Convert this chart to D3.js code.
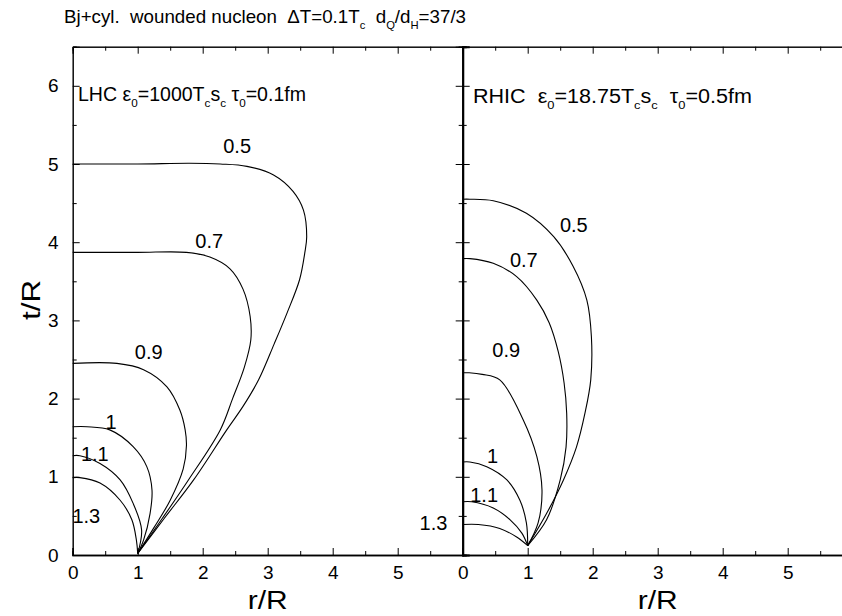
<!DOCTYPE html>
<html>
<head>
<meta charset="utf-8">
<script src="https://cdn.jsdelivr.net/npm/d3@7"></script>
<style>
  html, body { margin: 0; padding: 0; background: #fff; }
  svg { display: block; font-family: "Liberation Sans", Arial, Helvetica, sans-serif; }
  text { white-space: pre; }
</style>
</head>
<body>
<svg id="chart" width="842" height="616"></svg>
<script>
// Contour lines of constant temperature T/Tc in the (r/R, t/R) plane.
// Each series: [r/R, t/R] points.
const levels = ["0.5", "0.7", "0.9", "1", "1.1", "1.3"];

const lhc05 = [[0,5.0],[1.0,5.0],[1.8,5.01],[2.27,5.0],[2.68,4.97],[3.09,4.86],[3.39,4.65],[3.55,4.41],[3.6,4.07],[3.57,3.86],[3.49,3.52],[3.3,3.1],[3.1,2.7],[2.86,2.24],[2.62,1.9],[2.37,1.6],[1.86,0.96],[1.41,0.47],[1.0,0.02]];
const lhc07 = [[0,3.87],[1.0,3.87],[1.75,3.87],[2.11,3.81],[2.42,3.66],[2.62,3.4],[2.73,3.05],[2.74,2.75],[2.64,2.4],[2.46,2.0],[2.27,1.6],[1.78,0.96],[1.38,0.47],[1.0,0.02]];
const lhc09 = [[0,2.45],[0.68,2.45],[1.09,2.37],[1.45,2.15],[1.65,1.85],[1.73,1.6],[1.75,1.4],[1.7,1.1],[1.5,0.7],[1.25,0.35],[1.0,0.02]];
const lhc10 = [[0,1.64],[0.22,1.64],[0.57,1.6],[0.93,1.385],[1.14,1.13],[1.22,0.83],[1.19,0.53],[1.09,0.19],[1.0,0.02]];
const lhc11 = [[0,1.27],[0.11,1.27],[0.42,1.17],[0.73,0.96],[0.93,0.66],[1.06,0.32],[1.0,0.02]];
const lhc13 = [[0,0.99],[0.11,0.99],[0.42,0.92],[0.73,0.70],[0.91,0.45],[0.98,0.19],[1.0,0.02]];

const rhic05 = [[0,4.55],[0.11,4.55],[0.47,4.53],[0.98,4.37],[1.4,4.07],[1.7,3.69],[1.91,3.26],[1.98,2.79],[1.97,2.24],[1.88,1.81],[1.75,1.38],[1.55,0.96],[1.29,0.53],[1.0,0.12]];
const rhic07 = [[0,3.79],[0.11,3.79],[0.47,3.73],[0.83,3.56],[1.14,3.26],[1.33,2.97],[1.47,2.6],[1.56,2.2],[1.6,1.81],[1.59,1.38],[1.5,0.96],[1.29,0.45],[1.0,0.12]];
const rhic09 = [[0,2.33],[0.1,2.33],[0.3,2.31],[0.57,2.24],[0.93,1.73],[1.14,1.26],[1.22,0.83],[1.16,0.41],[1.0,0.12]];
const rhic10 = [[0,1.19],[0.11,1.19],[0.37,1.13],[0.68,0.96],[0.88,0.70],[0.98,0.41],[1.0,0.12]];
const rhic11 = [[0,0.68],[0.14,0.68],[0.47,0.6],[0.73,0.45],[0.91,0.28],[1.0,0.12]];
const rhic13 = [[0,0.39],[0.24,0.39],[0.57,0.34],[0.83,0.23],[1.0,0.12]];

// Where each level label sits, in (r/R, t/R)
const lhcLabelAt  = [[2.53,5.14],[2.10,3.93],[1.17,2.51],[0.59,1.61],[0.34,1.20],[0.21,0.41]];
const rhicLabelAt = [[1.71,4.13],[0.94,3.68],[0.67,2.53],[0.46,1.18],[0.33,0.68],[-0.45,0.32]];

const xTicks = [0, 1, 2, 3, 4, 5];
const yTicks = [0, 1, 2, 3, 4, 5, 6];
const xMinor = [0.5, 1.5, 2.5, 3.5, 4.5, 5.5];
const yMinor = [0.5, 1.5, 2.5, 3.5, 4.5, 5.5, 6.5];

const svg = d3.select("#chart");
svg.append("rect").attr("width", 842).attr("height", 616).attr("fill", "#fff");

const y = d3.scaleLinear().domain([0, 6.5]).range([555, 46.7]);
const xL = d3.scaleLinear().domain([0, 6]).range([72.7, 462.7]);
const xR = d3.scaleLinear().domain([0, 6]).range([462.7, 852.7]);

const MAJ = 7, MIN = 4;

// One framed panel: ticks point inward on all four sides
function frame(x, showY, leftWeight) {
  const g = svg.append("g");
  const [x0, x1] = x.range();
  const [y0, y1] = y.range();
  const side = (axis, tx, ty, weight) => {
    const s = g.append("g").attr("transform", `translate(${tx},${ty})`).call(axis);
    s.select(".domain").attr("stroke", "#000").attr("stroke-width", weight);
    return s;
  };
  // bottom
  side(d3.axisBottom(x).tickValues(xTicks).tickSize(-MAJ).tickPadding(11).tickFormat(d3.format("d")), 0, y0, 1.6);
  side(d3.axisBottom(x).tickValues(xMinor).tickSize(-MIN).tickFormat(""), 0, y0, 1.6);
  // top
  side(d3.axisTop(x).tickValues(xTicks.concat([6])).tickSize(-MAJ).tickFormat(""), 0, y1, 1.0);
  side(d3.axisTop(x).tickValues(xMinor).tickSize(-MIN).tickFormat(""), 0, y1, 1.0);
  // left
  side(d3.axisLeft(y).tickValues(yTicks).tickSize(-MAJ).tickPadding(showY ? 14 : 0)
    .tickFormat(showY ? d3.format("d") : ""), x0, 0, leftWeight);
  side(d3.axisLeft(y).tickValues(yMinor).tickSize(-MIN).tickFormat(""), x0, 0, leftWeight);
  // right
  side(d3.axisRight(y).tickValues(yTicks).tickSize(-MAJ).tickFormat(""), x1, 0, 1.0);
  side(d3.axisRight(y).tickValues(yMinor).tickSize(-MIN).tickFormat(""), x1, 0, 1.0);
  g.selectAll(".tick line").attr("stroke", "#000").attr("stroke-width", 1);
  g.selectAll(".tick text").attr("font-size", 19).attr("font-family", "Liberation Sans, Arial, sans-serif").attr("fill", "#000");
  // x axis title, centred on r/R = 3
  g.append("text").attr("x", x(3)).attr("y", 609).attr("text-anchor", "middle")
    .attr("font-size", 26).attr("textLength", 40).attr("lengthAdjust", "spacingAndGlyphs").text("r/R");
}

frame(xL, true, 1.0);
frame(xR, false, 1.9);

// y axis title
svg.append("text").attr("transform", `translate(40,300) rotate(-90)`)
  .attr("text-anchor", "middle").attr("font-size", 26).attr("textLength", 40)
  .attr("lengthAdjust", "spacingAndGlyphs").text("t/R");

const line = (x) => d3.line().x(d => x(d[0])).y(d => y(d[1])).curve(d3.curveCatmullRom.alpha(0.5));

function contours(x, series, labelAt) {
  const g = svg.append("g");
  g.selectAll("path").data(series).join("path")
    .attr("d", d => line(x)(d)).attr("fill", "none").attr("stroke", "#000").attr("stroke-width", 1.1);
  g.selectAll("text").data(levels).join("text")
    .attr("x", (d, i) => x(labelAt[i][0])).attr("y", (d, i) => y(labelAt[i][1]))
    .attr("text-anchor", "middle").attr("font-size", 20).text(d => d);
}

contours(xL, [lhc05, lhc07, lhc09, lhc10, lhc11, lhc13], lhcLabelAt);
contours(xR, [rhic05, rhic07, rhic09, rhic10, rhic11, rhic13], rhicLabelAt);

// Captions: plain strings run on the baseline, {sub} parts are lowered and smaller
function rich(x0, yb, parts, size, width) {
  const t = svg.append("text").attr("x", x0).attr("y", yb).attr("font-size", size)
    .attr("textLength", width).attr("lengthAdjust", "spacingAndGlyphs");
  const drop = size * 0.32;
  let lowered = false;
  parts.forEach(p => {
    const ts = t.append("tspan");
    if (typeof p === "string") {
      if (lowered) { ts.attr("dy", -drop); lowered = false; }
      ts.text(p);
    } else {
      ts.attr("font-size", size * 0.6).attr("dy", drop).text(p.sub);
      lowered = true;
    }
  });
  return t;
}

rich(64, 23, ["Bj+cyl.  wounded nucleon  \u0394T=0.1T", {sub:"c"}, "  d", {sub:"Q"}, "/d", {sub:"H"}, "=37/3"], 18.5, 402);
rich(78, 101, ["LHC \u03b5", {sub:"0"}, "=1000T", {sub:"c"}, "s", {sub:"c"}, " \u03c4", {sub:"0"}, "=0.1fm"], 19.5, 228);
rich(473, 103, ["RHIC  \u03b5", {sub:"0"}, "=18.75T", {sub:"c"}, "s", {sub:"c"}, "  \u03c4", {sub:"0"}, "=0.5fm"], 19.5, 279);
</script>
</body>
</html>
